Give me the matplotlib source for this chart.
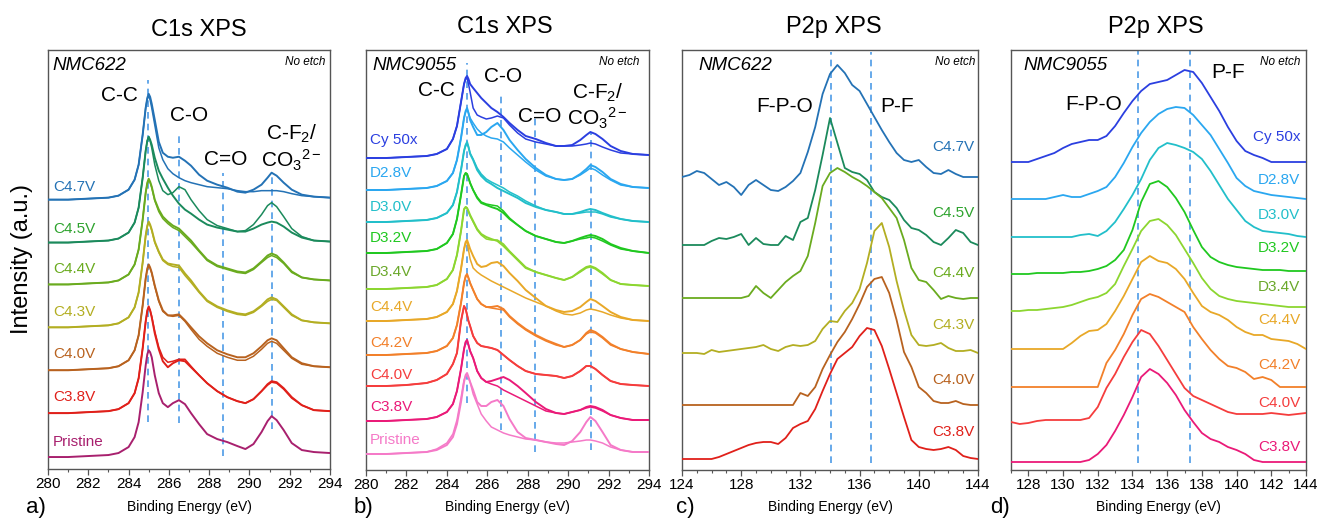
import numpy as np
import matplotlib
matplotlib.use('Agg')
import matplotlib.pyplot as plt
from matplotlib.ticker import MultipleLocator

plt.rcParams['font.family'] = ['Liberation Sans', 'DejaVu Sans']
plt.rcParams['mathtext.fontset'] = 'custom'
plt.rcParams['mathtext.rm'] = 'Liberation Sans'
plt.rcParams['mathtext.it'] = 'Liberation Sans:italic'

# =============================================================================
# DATA  (intensity above each trace's own baseline, arbitrary units)
# =============================================================================

# C1s energy grid (eV), shared by panels a and b
c1s_ev = [280, 281, 282, 283, 283.5, 284, 284.3, 284.5, 284.7, 284.85, 284.93, 285.0,
          285.07, 285.15, 285.3, 285.5, 285.7, 285.95, 286.2, 286.5, 286.8, 287.1, 287.5,
          287.9, 288.4, 288.9, 289.4, 289.8, 290.2, 290.6, 290.9, 291.1, 291.35,
          291.7, 292.1, 292.6, 293.2, 294]

# ---- panel a: NMC622 C1s ----
a_labels = ['C4.7V', 'C4.5V', 'C4.4V', 'C4.3V', 'C4.0V', 'C3.8V', 'Pristine']
a_offsets = [270, 227, 185, 142, 99, 56, 12]
a_c47 = [0, 0, 1, 2, 4, 10, 20, 35, 65, 92, 102, 106, 103, 96, 80, 58, 47, 43, 42, 43,
         39, 34, 25, 19, 15, 12, 8, 7, 10, 15, 22, 27, 24, 17, 10, 5, 3, 2]
a_c47b = [0, 0, 1, 2, 4, 10, 20, 35, 65, 92, 101, 104, 100, 92, 75, 52, 40, 31, 26, 22,
          19, 17, 15, 13, 12, 11, 9, 8, 8, 9, 9, 9, 9, 8, 6, 4, 3, 2]
a_c45 = [0, 0, 1, 2, 4, 10, 20, 35, 65, 92, 102, 106, 103, 98, 85, 72, 64, 55, 47, 39,
         33, 29, 23, 18, 15, 13, 11, 11, 14, 18, 20, 21, 20, 16, 10, 5, 2, 1]
a_c45b = [0, 0, 1, 2, 4, 10, 20, 35, 65, 92, 102, 106, 102, 95, 78, 62, 52, 48, 50, 56,
          53, 43, 32, 23, 17, 14, 11, 12, 18, 28, 37, 40, 36, 26, 14, 6, 2, 1]
a_c44 = [0, 0, 1, 2, 4, 10, 20, 35, 65, 92, 102, 106, 103, 98, 85, 75, 68, 63, 59, 56,
         50, 44, 34, 25, 19, 16, 13, 12, 16, 23, 29, 31, 29, 22, 13, 7, 5, 4]
a_c44b = [0, 0, 1, 2, 4, 10, 20, 35, 65, 92, 101, 105, 102, 97, 84, 73, 66, 61, 57, 54,
          48, 42, 33, 24, 18, 15, 12, 11, 15, 22, 27, 29, 27, 21, 12, 7, 5, 4]
a_c43 = [0, 0, 1, 2, 4, 10, 20, 35, 65, 92, 102, 106, 103, 98, 86, 76, 68, 64, 63, 62,
         54, 47, 36, 27, 21, 17, 14, 13, 16, 22, 28, 30, 28, 21, 13, 7, 5, 4]
a_c43b = [0, 0, 1, 2, 4, 10, 20, 35, 65, 92, 101, 105, 102, 97, 85, 75, 67, 63, 61, 60,
          52, 45, 35, 26, 20, 16, 13, 12, 15, 21, 26, 28, 27, 20, 12, 7, 5, 4]
a_c40 = [0, 0, 1, 2, 4, 10, 20, 35, 65, 92, 102, 106, 103, 98, 85, 70, 60, 55, 55, 56,
         50, 43, 34, 27, 20, 16, 13, 13, 17, 24, 30, 32, 30, 22, 13, 7, 4, 3]
a_c40b = [0, 0, 1, 2, 4, 10, 20, 35, 65, 92, 101, 105, 102, 97, 84, 69, 59, 55, 54, 55,
          49, 41, 31, 24, 17, 13, 10, 10, 14, 21, 27, 29, 27, 20, 12, 6, 4, 3]
a_c38 = [0, 0, 1, 2, 4, 10, 20, 35, 65, 92, 103, 107, 103, 96, 80, 64, 52, 46, 50, 53,
         52, 46, 38, 30, 22, 16, 12, 10, 14, 22, 29, 32, 31, 25, 16, 8, 3, 2]
a_c38b = [0, 0, 1, 2, 4, 10, 20, 35, 65, 92, 102, 106, 103, 97, 82, 66, 56, 51, 52, 54,
          54, 47, 38, 30, 22, 16, 12, 10, 14, 22, 28, 31, 30, 24, 15, 8, 3, 2]
a_pris = [0, 0, 1, 2, 4, 10, 20, 35, 65, 92, 103, 107, 105, 100, 82, 64, 54, 50, 54, 57,
          53, 44, 33, 23, 18, 15, 11, 8, 13, 25, 36, 41, 37, 27, 14, 7, 5, 4]

# ---- panel b: NMC9055 C1s ----
b_labels = ['Cy 50x', 'D2.8V', 'D3.0V', 'D3.2V', 'D3.4V', 'C4.4V', 'C4.2V', 'C4.0V',
            'C3.8V', 'Pristine']
b_offsets = [312, 280, 248, 217, 181, 149, 115, 84, 49, 16]
b_cy = [0, 0, 1, 2, 4, 9, 19, 32, 56, 74, 80, 82, 79, 74, 70, 65, 60, 55, 50, 46, 41,
        35, 28, 22, 19, 15, 12, 12, 13, 18, 23, 26, 24, 19, 12, 7, 4, 3]
b_cyb = [0, 0, 1, 2, 4, 9, 19, 32, 56, 74, 79, 80, 74, 66, 50, 43, 41, 39, 40, 42, 40,
         33, 25, 19, 16, 14, 12, 12, 12, 13, 14, 15, 14, 11, 8, 5, 4, 3]
b_d28 = [0, 0, 1, 2, 4, 9, 17, 30, 52, 72, 79, 82, 77, 70, 63, 55, 55, 58, 63, 67, 60,
         50, 40, 31, 22, 15, 11, 10, 11, 16, 21, 25, 23, 18, 11, 6, 3, 2]
b_d28b = [0, 0, 1, 2, 4, 9, 17, 30, 52, 72, 78, 81, 77, 72, 67, 61, 57, 54, 52, 51, 48,
          42, 35, 28, 20, 14, 11, 10, 11, 15, 19, 22, 20, 15, 10, 5, 3, 2]
b_d30 = [0, 0, 1, 2, 4, 9, 17, 30, 52, 71, 77, 80, 75, 68, 62, 52, 46, 41, 38, 34, 31,
         28, 24, 19, 15, 12, 10, 8, 8, 10, 12, 13, 12, 9, 6, 3, 1, 0]
b_d30b = [0, 0, 1, 2, 4, 9, 17, 30, 52, 71, 77, 79, 75, 69, 63, 54, 48, 43, 40, 37, 34,
          30, 26, 21, 16, 12, 10, 8, 8, 9, 10, 10, 10, 8, 5, 3, 1, 0]
b_d32 = [0, 0, 1, 2, 4, 10, 19, 34, 58, 77, 80, 79, 75, 70, 63, 55, 50, 48, 46, 44, 40,
         34, 28, 22, 17, 14, 11, 10, 12, 15, 17, 18, 17, 14, 9, 5, 2, 0]
b_d32b = [0, 0, 1, 2, 4, 10, 19, 34, 58, 77, 80, 79, 75, 70, 63, 56, 51, 49, 48, 47, 42,
          35, 28, 22, 17, 14, 11, 10, 12, 14, 15, 16, 15, 12, 8, 4, 2, 0]
b_d34 = [0, 0, 1, 2, 4, 10, 19, 34, 58, 80, 82, 81, 78, 74, 68, 60, 55, 52, 50, 48, 43,
         37, 29, 21, 17, 14, 11, 9, 12, 18, 22, 23, 21, 16, 9, 5, 4, 3]
b_d34b = [0, 0, 1, 2, 4, 10, 19, 34, 58, 79, 82, 81, 77, 73, 67, 59, 54, 50, 49, 49, 45,
          38, 30, 22, 17, 14, 11, 9, 12, 17, 21, 22, 20, 15, 9, 5, 4, 3]
b_c44 = [0, 0, 1, 2, 4, 9, 17, 30, 52, 72, 79, 81, 77, 72, 65, 57, 54, 55, 58, 59, 55,
         48, 40, 31, 23, 15, 11, 9, 10, 14, 19, 22, 20, 15, 9, 4, 1, 0]
b_c44b = [0, 0, 1, 2, 4, 9, 17, 30, 52, 72, 78, 80, 71, 62, 53, 49, 46, 43, 40, 37, 34,
          31, 27, 23, 19, 15, 10, 7, 6, 8, 11, 12, 11, 9, 6, 3, 1, 0]
b_c42 = [0, 0, 1, 2, 4, 9, 17, 30, 52, 72, 79, 81, 77, 72, 65, 56, 51, 48, 48, 49, 46,
         39, 32, 26, 20, 15, 11, 8, 10, 15, 22, 25, 23, 18, 11, 6, 3, 1]
b_c42b = [0, 0, 1, 2, 4, 9, 17, 30, 52, 72, 78, 80, 77, 72, 65, 56, 51, 48, 47, 46, 45,
          38, 31, 25, 19, 14, 10, 8, 10, 15, 21, 23, 22, 17, 10, 6, 3, 1]
b_c40 = [0, 0, 1, 3, 6, 12, 22, 33, 65, 80, 77, 71, 65, 60, 50, 43, 40, 39, 38, 36, 31,
         26, 20, 15, 12, 11, 10, 8, 10, 15, 20, 20, 17, 11, 5, 2, 1, 0]
b_c38 = [0, 0, 1, 2, 4, 9, 17, 30, 52, 72, 79, 81, 76, 70, 63, 50, 43, 39, 40, 42, 44,
         41, 35, 28, 19, 12, 8, 7, 9, 11, 14, 15, 14, 11, 6, 3, 1, 1]
b_c38b = [0, 0, 1, 2, 4, 9, 17, 30, 52, 72, 79, 81, 76, 70, 63, 50, 43, 39, 37, 35, 31,
          28, 24, 20, 15, 10, 8, 7, 9, 11, 13, 14, 13, 10, 6, 3, 1, 1]
b_pris = [0, 0, 1, 2, 4, 9, 17, 30, 52, 72, 79, 81, 77, 72, 64, 52, 48, 48, 52, 54, 48,
          35, 22, 16, 14, 12, 10, 9, 13, 22, 32, 37, 33, 22, 9, 4, 2, 2]
b_prisb = [0, 0, 1, 2, 5, 11, 20, 34, 56, 74, 78, 79, 76, 72, 60, 50, 40, 33, 27, 24, 21,
           19, 17, 15, 14, 12, 11, 11, 12, 13, 14, 14, 13, 11, 7, 4, 2, 2]

# P2p energy grids (0.5 eV steps)
p2p_ev_c = np.arange(124, 144.01, 0.5)
p2p_ev_d = np.arange(127, 144.01, 0.5)

# ---- panel c: NMC622 P2p ----
c_labels = ['C4.7V', 'C4.5V', 'C4.4V', 'C4.3V', 'C4.0V', 'C3.8V']
c_offsets = [293, 225, 172, 117, 65, 11]
c_c47 = [0, 2, 6, 4, -2, -8, -5, -10, -18, -8, -3, -8, -13, -14, -10, -4, 4, 25, 50, 83,
         103, 112, 104, 92, 86, 73, 60, 47, 35, 24, 17, 15, 17, 10, 4, 3, 7, 3, 0, 0, 0]
c_c45 = [0, 0, 0, 0, 4, 7, 6, 8, 11, 0, 7, 1, 0, 0, 9, 5, 23, 27, 55, 90,
         127, 102, 77, 73, 71, 65, 53, 48, 45, 37, 25, 17, 15, 10, 3, 0, 7, 15, 12, 3, 0]
c_c44 = [0, 0, 0, 0, 0, 0, 0, 0, 0, 2, 12, 5, 0, 8, 16, 22, 27, 42, 75, 112,
         125, 130, 126, 121, 117, 112, 106, 100, 90, 80, 58, 30, 18, 16, 8, -1, 2, 0, -1, 0, 0]
c_c43 = [0, 0, 0, -1, 3, 1, 2, 3, 4, 5, 6, 8, 4, 2, 6, 8, 7, 8, 12, 24,
         32, 31, 42, 50, 64, 90, 122, 130, 106, 72, 43, 18, 8, 7, 8, 10, 5, 2, 2, 3, 0]
c_c40 = [0, 0, 0, 0, 0, 0, 0, 0, 0, 0, 0, 0, 0, 0, 0, 0, 12, 9, 18, 36,
         50, 63, 73, 86, 101, 118, 126, 128, 112, 85, 53, 38, 18, 12, 4, 2, 2, 4, 1, 0, 0]
c_c38 = [0, 0, 0, 0, 0, 2, 5, 8, 11, 14, 16, 17, 17, 15, 21, 31, 35, 38, 50, 68,
         85, 100, 106, 112, 123, 131, 129, 113, 90, 66, 42, 19, 12, 10, 9, 10, 12, 9, 3, 1, 0]

# ---- panel d: NMC9055 P2p ----
d_labels = ['Cy 50x', 'D2.8V', 'D3.0V', 'D3.2V', 'D3.4V', 'C4.4V', 'C4.2V', 'C4.0V', 'C3.8V']
d_offsets = [308, 271, 233, 196, 159, 121, 83, 48, 8]
d_cy = [0, 0, 0, 3, 6, 9, 14, 18, 20, 22, 22, 26, 36, 49, 61, 71, 78, 80, 82, 87,
        92, 90, 79, 65, 51, 35, 21, 11, 7, 4, 0, 0, 0, 0, 0]
d_d28 = [0, 0, 0, 0, 0, 2, 4, 2, 2, 5, 8, 12, 22, 36, 52, 66, 77, 85, 90, 92,
         91, 84, 74, 64, 50, 36, 21, 13, 8, 6, 4, 3, 2, 1, 0]
d_d30 = [0, 0, 0, 0, 0, 0, 0, 0, 2, 3, 1, 6, 15, 28, 42, 58, 77, 89, 94, 92,
         89, 85, 78, 66, 52, 38, 27, 16, 10, 6, 5, 4, 3, 1, 0]
d_d32 = [0, 0, 0, 1, 1, 1, 1, 2, 2, 3, 5, 8, 14, 24, 44, 72, 90, 93, 87, 76,
         62, 44, 27, 17, 12, 9, 7, 6, 5, 4, 4, 4, 3, 3, 3]
d_d34 = [0, 0, 1, 1, 2, 3, 4, 6, 9, 12, 14, 18, 27, 45, 62, 80, 90, 92, 86, 76,
         62, 48, 33, 22, 15, 12, 10, 9, 8, 7, 6, 5, 4, 4, 4]
d_c44 = [0, 0, 0, 0, 0, 0, 0, 6, 13, 18, 19, 25, 38, 53, 70, 87, 93, 88, 86, 80,
         70, 56, 43, 37, 34, 29, 22, 17, 14, 14, 10, 9, 8, 5, 0]
d_c42 = [0, 0, 0, 0, 0, 0, 0, 0, 0, 0, 0, 24, 37, 53, 72, 88, 93, 90, 85, 80,
         75, 60, 48, 37, 28, 21, 19, 15, 8, 10, 7, 0, 0, 0, 0]
d_c40 = [0, -2, -1, 1, 2, 2, 2, 2, 2, 4, 15, 34, 48, 65, 80, 92, 88, 76, 62, 48,
         34, 26, 22, 18, 14, 10, 8, 8, 8, 8, 9, 8, 7, 8, 9]
d_c38 = [0, 0, 0, 0, 0, 0, 0, 0, 0, 2, 8, 17, 31, 47, 65, 85, 93, 88, 79, 67,
         52, 40, 29, 23, 20, 15, 12, 8, 2, 0, 0, 0, 0, 0, 0]

# =============================================================================
# STYLE
# =============================================================================
line_col = {'C4.7V': '#2472b5', 'C4.5V': '#1b8a5c', 'C4.4V': '#6aab1f',
            'C4.3V': '#b3ae22', 'C4.0V': '#b8621f', 'C3.8V': '#e0201a',
            'Pristine': '#a8206e'}
lab_col = dict(line_col, **{'C4.5V': '#2ea32e'})
line_col2 = {'Cy 50x': '#2b3fe0', 'D2.8V': '#2aa7f0', 'D3.0V': '#22bfca',
             'D3.2V': '#20c820', 'D3.4V': '#8cd630', 'C4.4V': '#e8a828',
             'C4.2V': '#f2802a', 'C4.0V': '#f53d3d', 'C3.8V': '#ea1a78',
             'Pristine': '#f57ac8'}
lab_col2 = dict(line_col2, **{'D3.4V': '#6aa82a'})
dash_col = '#4d9be6'

fig = plt.figure(figsize=(13.17, 5.19), dpi=100)
W, H = 1317., 519.

def make_ax(x0, x1, y0=50, y1=470):
    ax = fig.add_axes([x0 / W, 1 - y1 / H, (x1 - x0) / W, (y1 - y0) / H])
    ax.set_ylim(0, 420)
    ax.set_yticks([])
    for s in ax.spines.values():
        s.set_color('#555555')
        s.set_linewidth(1.0)
    ax.tick_params(axis='x', which='major', direction='out', length=4, width=0.9,
                   labelsize=11, pad=2, color='#555555')
    ax.tick_params(axis='x', which='minor', direction='out', length=2.5, width=0.8,
                   color='#555555')
    return ax

def stack(ax, ev, curves, offsets, labels, colors, lw=1.4):
    for ys, off, lab in zip(curves, offsets, labels):
        ax.plot(ev, np.array(ys) + off, color=colors[lab], lw=lw, zorder=3,
                solid_joinstyle='round')

def dashes(ax, xs, y0s, y1s):
    for x, y0, y1 in zip(xs, y0s, y1s):
        ax.plot([x, x], [y0, y1], color=dash_col, lw=1.2, ls=(0, (4, 3)), zorder=2)

def corner(ax, name, x_name, x_etch):
    ax.text(x_name, 404, name, fontsize=13.5, style='italic', va='center', ha='left')
    ax.text(x_etch, 408, 'No etch', fontsize=8.5, style='italic', va='center', ha='right')

# ---------------- panel a ----------------
ax = make_ax(48, 330, 50, 469)
ax.set_xlim(280, 294)
ax.xaxis.set_major_locator(MultipleLocator(2))
ax.xaxis.set_minor_locator(MultipleLocator(1))
a_main = [a_c47, a_c45, a_c44, a_c43, a_c40, a_c38, a_pris]
a_two = [a_c47b, a_c45b, a_c44b, a_c43b, a_c40b, a_c38b]
stack(ax, c1s_ev, a_main, a_offsets, a_labels, line_col)
stack(ax, c1s_ev, a_two, a_offsets, a_labels, line_col, lw=1.1)
dashes(ax, [284.98, 286.5, 288.67, 291.1], [47, 46, 13, 40], [390, 338, 297, 298])
for lab, y in zip(a_labels, [283, 241, 200, 157, 115, 72, 27]):
    ax.text(280.25, y, lab, color=lab_col[lab], fontsize=11, va='center', ha='left')
corner(ax, 'NMC622', 280.2, 293.75)
for txt, x, y in [('C-C', 283.53, 374), ('C-O', 287.0, 354), ('C=O', 288.84, 310),
                  ('C-F$_2$/', 292.1, 336), ('CO$_3$$^{2-}$', 292.1, 309)]:
    ax.text(x, y, txt, fontsize=15, ha='center', va='center')

# ---------------- panel b ----------------
ax = make_ax(366, 649)
ax.set_xlim(280, 294)
ax.xaxis.set_major_locator(MultipleLocator(2))
ax.xaxis.set_minor_locator(MultipleLocator(1))
b_main = [b_cy, b_d28, b_d30, b_d32, b_d34, b_c44, b_c42, b_c40, b_c38, b_pris]
b_two = [b_cyb, b_d28b, b_d30b, b_d32b, b_d34b, b_c44b, b_c42b, b_c40, b_c38b, b_prisb]
stack(ax, c1s_ev, b_main, b_offsets, b_labels, line_col2)
stack(ax, c1s_ev, b_two, b_offsets, b_labels, line_col2, lw=1.1)
dashes(ax, [284.98, 286.68, 288.36, 291.15], [67, 40, 18, 20], [407, 375, 353, 338])
for lab, y in zip(b_labels, [330, 297, 263, 232, 198, 163, 127, 95, 63, 30]):
    ax.text(280.2, y, lab, color=lab_col2[lab], fontsize=11, va='center', ha='left')
corner(ax, 'NMC9055', 280.3, 293.5)
for txt, x, y in [('C-C', 283.47, 380), ('C-O', 286.78, 393), ('C=O', 288.6, 353),
                  ('C-F$_2$/', 291.46, 377), ('CO$_3$$^{2-}$', 291.46, 352)]:
    ax.text(x, y, txt, fontsize=15, ha='center', va='center')

# ---------------- panel c ----------------
ax = make_ax(682, 978)
ax.set_xlim(124, 144)
ax.xaxis.set_major_locator(MultipleLocator(4))
ax.xaxis.set_minor_locator(MultipleLocator(1))
c_main = [c_c47, c_c45, c_c44, c_c43, c_c40, c_c38]
stack(ax, p2p_ev_c, c_main, c_offsets, c_labels, line_col, lw=1.3)
dashes(ax, [134.07, 136.8], [7, 7], [418, 418])
for lab, y in zip(c_labels, [323, 257, 197, 145, 90, 38]):
    ax.text(143.73, y, lab, color=lab_col[lab], fontsize=11, va='center', ha='right')
corner(ax, 'NMC622', 125.08, 143.8)
ax.text(130.96, 363, 'F-P-O', fontsize=15, ha='center', va='center')
ax.text(138.5, 363, 'P-F', fontsize=15, ha='center', va='center')

# ---------------- panel d ----------------
ax = make_ax(1011, 1306)
ax.set_xlim(127, 144)
ax.xaxis.set_major_locator(MultipleLocator(2))
ax.xaxis.set_minor_locator(MultipleLocator(1))
d_main = [d_cy, d_d28, d_d30, d_d32, d_d34, d_c44, d_c42, d_c40, d_c38]
stack(ax, p2p_ev_d, d_main, d_offsets, d_labels, line_col2, lw=1.3)
dashes(ax, [134.34, 137.3], [7, 7], [420, 420])
for lab, y in zip(d_labels, [333, 290, 255, 222, 183, 150, 105, 67, 23]):
    ax.text(143.66, y, lab, color=lab_col2[lab], fontsize=11, va='center', ha='right')
corner(ax, 'NMC9055', 127.7, 143.66)
ax.text(131.78, 365, 'F-P-O', fontsize=15, ha='center', va='center')
ax.text(139.5, 398, 'P-F', fontsize=15, ha='center', va='center')

# ---------------- figure text ----------------
for txt, x, y in [('C1s XPS', 199, 30), ('C1s XPS', 505, 27),
                  ('P2p XPS', 834, 27), ('P2p XPS', 1156, 27)]:
    fig.text(x / W, 1 - y / H, txt, fontsize=17, ha='center', va='center')
for x in [189, 507, 830, 1158]:
    fig.text(x / W, 1 - 507 / H, 'Binding Energy (eV)', fontsize=10, ha='center', va='center')
for txt, x in [('a)', 36), ('b)', 363), ('c)', 685), ('d)', 1000)]:
    fig.text(x / W, 1 - 508 / H, txt, fontsize=16, ha='center', va='center')
fig.text(22 / W, 1 - 259 / H, 'Intensity (a.u.)', fontsize=17, rotation=90,
         ha='center', va='center')

fig.savefig('out.png', dpi=100)
